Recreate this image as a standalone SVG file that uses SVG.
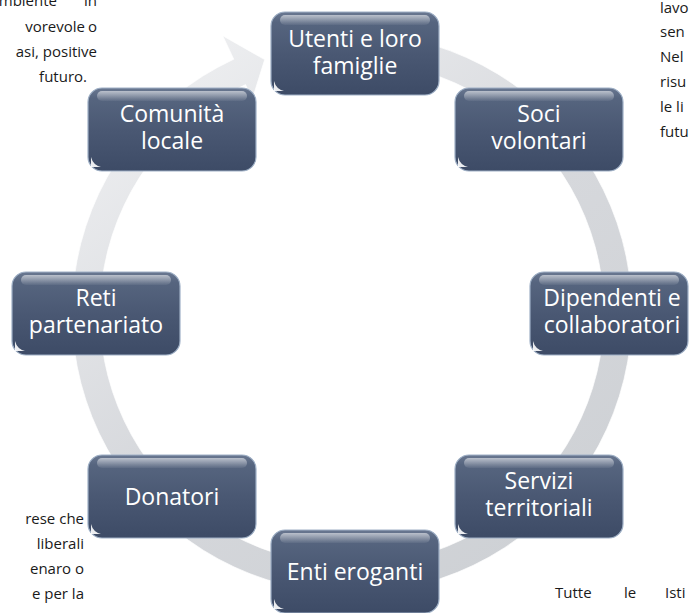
<svg xmlns="http://www.w3.org/2000/svg" width="689" height="613" viewBox="0 0 689 613">
<defs>
<linearGradient id="ringFill" gradientUnits="userSpaceOnUse" x1="180" y1="40" x2="560" y2="580">
<stop offset="0" stop-color="#eeeff1"/>
<stop offset="0.5" stop-color="#d6d8dc"/>
<stop offset="1" stop-color="#cdd0d4"/>
</linearGradient>
<linearGradient id="nodeFill" x1="0" y1="0" x2="0" y2="1">
<stop offset="0" stop-color="#6a7891"/>
<stop offset="0.12" stop-color="#56657f"/>
<stop offset="0.5" stop-color="#4a5873"/>
<stop offset="1" stop-color="#3d4b66"/>
</linearGradient>
<linearGradient id="gloss" x1="0" y1="0" x2="0" y2="1">
<stop offset="0" stop-color="#ffffff" stop-opacity="0.55"/>
<stop offset="1" stop-color="#ffffff" stop-opacity="0.05"/>
</linearGradient>
<style>
.box{fill:url(#nodeFill);stroke:#9fb0c6;stroke-width:1.2}
.gl{fill:url(#gloss)}
.nick{fill:#ffffff;opacity:0.9}
.lbl{font-family:"Open Sans","Liberation Sans",sans-serif;font-size:23px;fill:#ffffff;text-anchor:middle}
.para{font-family:"Open Sans","Liberation Sans",sans-serif;font-size:15px;fill:#1a1a1a}
.end{text-anchor:end}
</style>
</defs>
<rect width="689" height="613" fill="#ffffff"/>

<g id="background-text" class="para">
<text x="57" y="6" class="end">mbiente</text>
<text x="97" y="6" class="end">in</text>
<text x="85" y="32" class="end">vorevole</text>
<text x="97" y="32" class="end">o</text>
<text x="97" y="57" class="end">asi, positive</text>
<text x="87" y="82" class="end">futuro.</text>
<text x="660" y="13">lavo</text>
<text x="660" y="37">sen</text>
<text x="660" y="62">Nel</text>
<text x="660" y="87">risu</text>
<text x="660" y="112">le li</text>
<text x="660" y="137">futu</text>
<text x="84" y="524" class="end">rese che</text>
<text x="84" y="549" class="end">liberali</text>
<text x="84" y="574" class="end">enaro o</text>
<text x="84" y="599" class="end">e per la</text>
<text x="555" y="598">Tutte</text>
<text x="624" y="598">le</text>
<text x="665" y="598">Isti</text>
</g>

<g id="connectors">
<path d="M 293.8 39.1 A 280 280 0 1 1 233.7 59.2 L 222.7 35.7 L 264.7 59.6 L 252.3 99.1 L 245.5 84.6 A 252 252 0 1 0 299.6 66.5 Z" fill="url(#ringFill)" stroke="#ffffff" stroke-opacity="0.7" stroke-width="1"/>
</g>

<g id="node-utenti">
<rect class="box" x="271" y="12" width="168" height="83" rx="14"/>
<rect class="gl" x="280" y="15" width="150" height="10" rx="5"/>
<path class="nick" d="M274 81 L274 91 L284 91 Q276 89 274 81 Z"/>
<text class="lbl" x="355" y="47">Utenti e loro<tspan x="355" dy="27">famiglie</tspan></text>
</g>
<g id="node-soci">
<rect class="box" x="455" y="88" width="168" height="83" rx="14"/>
<rect class="gl" x="464" y="91" width="150" height="10" rx="5"/>
<path class="nick" d="M458 157 L458 167 L468 167 Q460 165 458 157 Z"/>
<text class="lbl" x="539" y="122">Soci<tspan x="539" dy="27">volontari</tspan></text>
</g>
<g id="node-dipendenti">
<rect class="box" x="530" y="272" width="158" height="83" rx="14"/>
<rect class="gl" x="539" y="275" width="140" height="10" rx="5"/>
<path class="nick" d="M533 341 L533 351 L543 351 Q535 349 533 341 Z"/>
<text class="lbl" x="612" y="306">Dipendenti e<tspan x="612" dy="27">collaboratori</tspan></text>
</g>
<g id="node-servizi">
<rect class="box" x="455" y="455" width="168" height="83" rx="14"/>
<rect class="gl" x="464" y="458" width="150" height="10" rx="5"/>
<path class="nick" d="M458 524 L458 534 L468 534 Q460 532 458 524 Z"/>
<text class="lbl" x="539" y="489">Servizi<tspan x="539" dy="27">territoriali</tspan></text>
</g>
<g id="node-enti">
<rect class="box" x="271" y="530" width="168" height="83" rx="14"/>
<rect class="gl" x="280" y="533" width="150" height="10" rx="5"/>
<path class="nick" d="M274 599 L274 609 L284 609 Q276 607 274 599 Z"/>
<text class="lbl" x="355" y="580">Enti eroganti</text>
</g>
<g id="node-donatori">
<rect class="box" x="88" y="455" width="168" height="83" rx="14"/>
<rect class="gl" x="97" y="458" width="150" height="10" rx="5"/>
<path class="nick" d="M91 524 L91 534 L101 534 Q93 532 91 524 Z"/>
<text class="lbl" x="172" y="505">Donatori</text>
</g>
<g id="node-reti">
<rect class="box" x="12" y="272" width="168" height="83" rx="14"/>
<rect class="gl" x="21" y="275" width="150" height="10" rx="5"/>
<path class="nick" d="M15 341 L15 351 L25 351 Q17 349 15 341 Z"/>
<text class="lbl" x="96" y="306">Reti<tspan x="96" dy="27">partenariato</tspan></text>
</g>
<g id="node-comunita">
<rect class="box" x="88" y="88" width="168" height="83" rx="14"/>
<rect class="gl" x="97" y="91" width="150" height="10" rx="5"/>
<path class="nick" d="M91 157 L91 167 L101 167 Q93 165 91 157 Z"/>
<text class="lbl" x="172" y="122">Comunità<tspan x="172" dy="27">locale</tspan></text>
</g>
</svg>
